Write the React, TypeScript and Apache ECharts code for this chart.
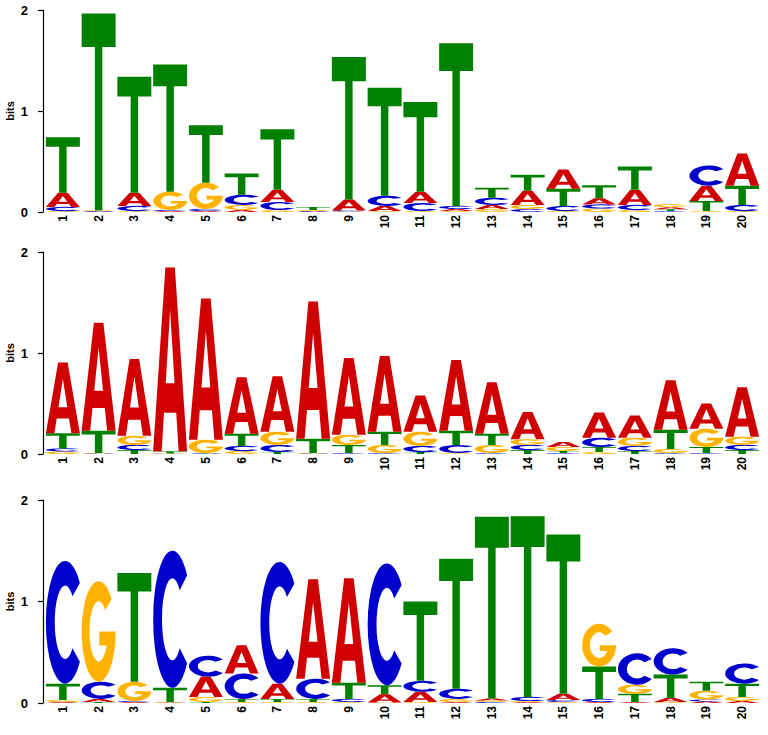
import React, { useEffect, useRef } from "react";
import * as echarts from "echarts";

const positions = ["1","2","3","4","5","6","7","8","9","10","11","12","13","14","15","16","17","18","19","20"];
const letters = ["A", "C", "G", "T"];
const letterColors = ["#d00000", "#0000cc", "#ffb300", "#008000"];
const yTicks = [0, 1, 2];

// Panel 1 (top) information per letter (bits)
const p1A = [0.14, 0.005, 0.13, 0.01, 0.01, 0.02, 0.12, 0.005, 0.11, 0.05, 0.11, 0.02, 0.04, 0.14, 0.19, 0.06, 0.15, 0.02, 0.15, 0.32];
const p1C = [0.04, 0.005, 0.05, 0.01, 0.02, 0.10, 0.08, 0.005, 0.01, 0.10, 0.08, 0.03, 0.07, 0.03, 0.05, 0.04, 0.05, 0.01, 0.20, 0.06];
const p1G = [0.01, 0.005, 0.01, 0.18, 0.26, 0.05, 0.02, 0.01, 0.005, 0.01, 0.01, 0.01, 0.03, 0.04, 0.01, 0.035, 0.02, 0.03, 0.01, 0.01];
const p1T = [0.55, 1.95, 1.15, 1.26, 0.57, 0.21, 0.60, 0.03, 1.41, 1.07, 0.89, 1.61, 0.10, 0.16, 0.17, 0.13, 0.23, 0.018, 0.10, 0.19];

// Panel 2 (middle)
const p2A = [0.70, 1.07, 0.76, 1.82, 1.40, 0.56, 0.55, 1.36, 0.76, 0.75, 0.36, 0.70, 0.51, 0.27, 0.05, 0.25, 0.22, 0.49, 0.25, 0.49];
const p2C = [0.03, 0.005, 0.05, 0.003, 0.005, 0.05, 0.07, 0.005, 0.01, 0.01, 0.06, 0.08, 0.01, 0.05, 0.01, 0.09, 0.05, 0.01, 0.01, 0.05];
const p2G = [0.025, 0.005, 0.09, 0.003, 0.13, 0.03, 0.13, 0.005, 0.10, 0.08, 0.14, 0.01, 0.08, 0.055, 0.04, 0.02, 0.08, 0.04, 0.18, 0.08];
const p2T = [0.15, 0.22, 0.04, 0.02, 0.005, 0.12, 0.02, 0.14, 0.08, 0.13, 0.02, 0.14, 0.11, 0.04, 0.02, 0.05, 0.03, 0.19, 0.06, 0.04];

// Panel 3 (bottom)
const p3A = [0.01, 0.03, 0.01, 0.005, 0.20, 0.28, 0.15, 0.98, 1.03, 0.08, 0.10, 0.01, 0.02, 0.01, 0.06, 0.01, 0.01, 0.04, 0.015, 0.02];
const p3C = [1.21, 0.17, 0.01, 1.35, 0.205, 0.25, 1.20, 0.20, 0.03, 1.20, 0.11, 0.10, 0.01, 0.04, 0.02, 0.03, 0.31, 0.26, 0.02, 0.20];
const p3G = [0.02, 0.99, 0.19, 0.005, 0.05, 0.01, 0.01, 0.01, 0.01, 0.005, 0.01, 0.03, 0.015, 0.01, 0.01, 0.42, 0.09, 0.01, 0.085, 0.04];
const p3T = [0.16, 0.01, 1.07, 0.14, 0.01, 0.03, 0.03, 0.03, 0.16, 0.09, 0.78, 1.28, 1.79, 1.78, 1.57, 0.32, 0.08, 0.23, 0.09, 0.13];

const panels = [
  [p1A, p1C, p1G, p1T],
  [p2A, p2C, p2G, p2T],
  [p3A, p3C, p3G, p3T],
];

// Glyph outlines in a unit box (stretched to fill each letter's rectangle)
const glyphPaths = [
  "M0,100 L36,0 L64,0 L100,100 L75,100 L68,79 L32,79 L25,100 Z M37,63 L63,63 L50,23 Z",
  "M88.3,17.9 A50,50 0 1,0 88.3,82.1 L69.1,71.2 A27,30 0 1,1 69.1,28.8 Z",
  "M88.3,17.9 A50,50 0 1,0 100,50 L52,50 L52,64 L73.9,64 A27,30 0 1,1 69.1,28.8 Z",
  "M0,0 L100,0 L100,17 L61,17 L61,100 L39,100 L39,17 L0,17 Z",
];

function buildStacks(panel: number[][]) {
  const out: number[][] = [];
  for (let i = 0; i < positions.length; i++) {
    const items = letters.map((_, li) => ({ li, h: panel[li][i] }));
    items.sort((a, b) => a.h - b.h);
    let base = 0;
    for (const it of items) {
      out.push([i, it.li, base, base + it.h]);
      base += it.h;
    }
  }
  return out;
}

const gridTops = [10, 252, 500];
const gridHeights = [202, 202, 203];

export default function App() {
  const ref = useRef<HTMLDivElement>(null);
  useEffect(() => {
    if (!ref.current) return;
    const chart = echarts.init(ref.current, null, { renderer: "svg" });
    const font = "Liberation Sans, Arial, Helvetica, sans-serif";
    const grids = gridTops.map((t, k) => ({
      left: 45,
      right: 8,
      top: t,
      height: gridHeights[k],
      containLabel: false,
      outerBoundsMode: "none",
    }));
    const xAxes = gridTops.map((_, k) => ({
      type: "category",
      gridIndex: k,
      data: positions,
      boundaryGap: true,
      axisLine: { show: false },
      axisTick: { show: false },
      splitLine: { show: false },
      axisLabel: {
        rotate: 90,
        margin: 3,
        interval: 0,
        color: "#000",
        fontSize: 12,
        fontWeight: "bold",
        fontFamily: font,
      },
    }));
    const yAxes = gridTops.map((_, k) => ({
      type: "value",
      gridIndex: k,
      min: yTicks[0],
      max: yTicks[yTicks.length - 1],
      interval: 1,
      offset: 2,
      name: "bits",
      nameLocation: "middle",
      nameGap: 28,
      nameMoveOverlap: false,
      nameTextStyle: { color: "#000", fontSize: 11, fontWeight: "bold", fontFamily: font },
      axisLine: { show: true, lineStyle: { color: "#000", width: 1.2 } },
      axisTick: { show: true, length: 5, lineStyle: { color: "#000", width: 1.2 } },
      splitLine: { show: false },
      axisLabel: { margin: 15, color: "#000", fontSize: 13, fontWeight: "bold", fontFamily: font },
    }));
    const series = panels.map((panel, k) => ({
      type: "custom",
      xAxisIndex: k,
      yAxisIndex: k,
      clip: false,
      encode: { x: 0, y: 3 },
      data: buildStacks(panel),
      renderItem: (params: any, api: any) => {
        const pos = api.value(0);
        const li = api.value(1);
        const y0 = api.value(2);
        const y1 = api.value(3);
        const bw = api.size([1, 0])[0];
        const top = api.coord([pos, y1]);
        const bot = api.coord([pos, y0]);
        const w = bw * 0.95;
        const h = Math.max(bot[1] - top[1], 0.4);
        return {
          type: "path",
          shape: {
            pathData: glyphPaths[li],
            x: top[0] - w / 2,
            y: top[1],
            width: w,
            height: h,
            layout: "cover",
          },
          style: { fill: letterColors[li] },
        };
      },
    }));
    chart.setOption({
      animation: false,
      backgroundColor: "#fff",
      grid: grids,
      xAxis: xAxes,
      yAxis: yAxes,
      series,
    } as any);
    return () => chart.dispose();
  }, []);
  return (
    <div
      ref={ref}
      style={{ position: "fixed", left: 0, top: 0, width: 768, height: 735, background: "#fff" }}
    />
  );
}
